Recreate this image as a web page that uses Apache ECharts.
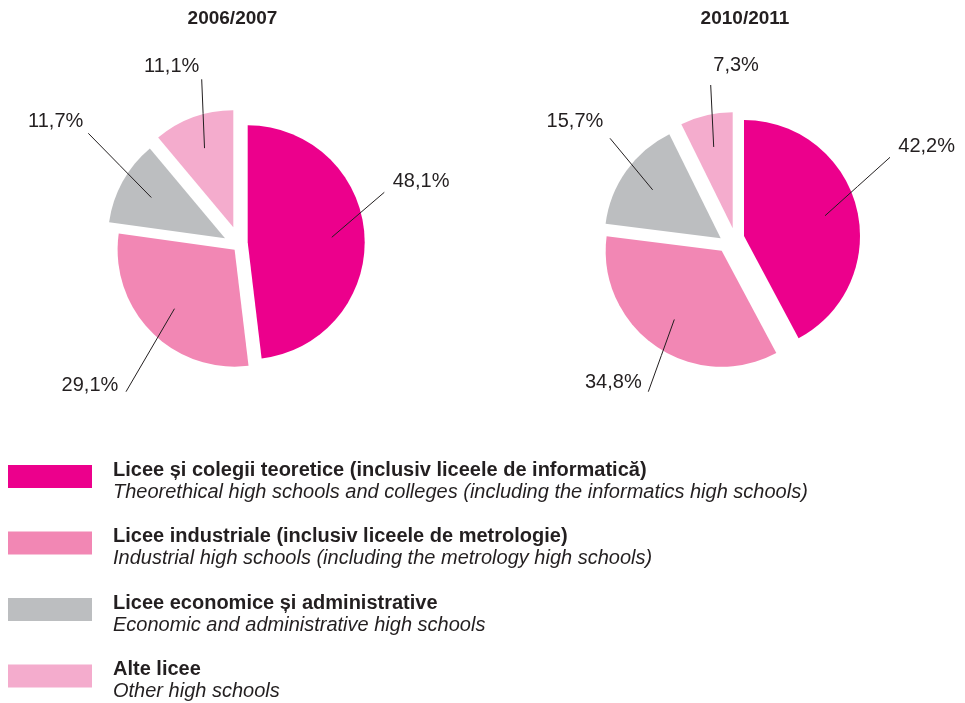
<!DOCTYPE html>
<html>
<head>
<meta charset="utf-8">
<script src="https://cdn.jsdelivr.net/npm/echarts@6/dist/echarts.min.js"></script>
<style>
html,body{margin:0;padding:0;background:#fff;}
#chart{width:965px;height:703px;}
</style>
</head>
<body>
<div id="chart"></div>
<script>
// ---- data ----
const years = ['2006/2007', '2010/2011'];
const categories = [
  'Licee și colegii teoretice (inclusiv liceele de informatică)',
  'Licee industriale (inclusiv liceele de metrologie)',
  'Licee economice și administrative',
  'Alte licee'
];
const categoriesEn = [
  'Theorethical high schools and colleges (including the informatics high schools)',
  'Industrial high schools (including the metrology high schools)',
  'Economic and administrative high schools',
  'Other high schools'
];
const values2006 = [48.1, 29.1, 11.7, 11.1];
const values2010 = [42.2, 34.8, 15.7, 7.3];

// ---- styles / layout ----
const COLORS = ['#EC008C', '#F287B4', '#BCBEC0', '#F4ACCD'];
const FONT = "'Liberation Sans', Arial, Helvetica, sans-serif";
const TEXT = '#231f20';
const PIE_CENTER = [[237, 240], [732, 240]];
const RADIUS = [117, 116];
// per-slice explode offsets [dx, dy]
const EXPLODE = [
  [[10.7, 2.3], [-2.4, 9.7], [-12, -1.7], [-3.7, -12.7]],
  [[12, -4], [-10.3, 10.7], [-11.3, -1.7], [0.7, -11.7]]
];
// label anchor offsets from each slice centre, and alignment
const LABEL_OFF = [
  [[145, -60.6, 'left'], [-116.3, 135.3, 'right'], [-141.7, -116.6, 'right'], [-34, -161.3, 'right']],
  [[154.3, -90, 'left'], [-80, 131.8, 'right'], [-117.4, -116.6, 'right'], [-19.4, -162.8, 'left']]
];
// leader line end offsets from each slice centre
const LINE_END = [
  [[136.6, -50], [-108.6, 142], [-136.7, -105], [-31.6, -148]],
  [[146, -78.7], [-73.4, 141], [-110.7, -100], [-22, -143.3]]
];
const INNER = 0.72;

const enByName = {};
categories.forEach((c, i) => { enByName[c] = categoriesEn[i]; });

function sliceGeometry(values, p) {
  const total = values.reduce((a, b) => a + b, 0);
  let cum = 0;
  return values.map((v, i) => {
    const startFrac = cum / total;
    cum += v;
    const midRad = (startFrac + v / total / 2) * 2 * Math.PI;
    let sa = 90 - startFrac * 360;
    sa = ((sa % 360) + 360) % 360;
    return {
      v: v, rest: total - v, i: i, p: p, midRad: midRad, startAngle: sa,
      cx: PIE_CENTER[p][0] + EXPLODE[p][i][0],
      cy: PIE_CENTER[p][1] + EXPLODE[p][i][1],
      R: RADIUS[p]
    };
  });
}

function sliceSeries(g) {
  return {
    type: 'pie',
    name: years[g.p] + '#' + g.i,
    z: 2,
    center: [g.cx, g.cy],
    radius: g.R,
    startAngle: g.startAngle,
    clockwise: true,
    silent: true,
    animation: false,
    avoidLabelOverlap: false,
    emphasis: { disabled: true },
    label: { show: false },
    labelLine: { show: false },
    data: [
      { name: categories[g.i], value: g.v, itemStyle: { color: COLORS[g.i] } },
      { name: '_rest', value: g.rest, itemStyle: { color: 'rgba(0,0,0,0)' } }
    ]
  };
}

function labelSeries(g) {
  const p = g.p, i = g.i, cx = g.cx, cy = g.cy, R = g.R;
  return {
    type: 'pie',
    name: years[p] + '#label' + i,
    z: 5,
    center: [cx, cy],
    radius: R,
    startAngle: g.startAngle,
    clockwise: true,
    silent: true,
    animation: false,
    avoidLabelOverlap: false,
    emphasis: { disabled: true },
    itemStyle: { color: 'rgba(0,0,0,0)' },
    label: {
      show: true,
      position: 'outside',
      fontSize: 20,
      fontFamily: FONT,
      color: TEXT,
      formatter: (prm) => prm.value.toFixed(1).replace('.', ',') + '%'
    },
    labelLine: {
      show: true, length: 10, length2: 0, smooth: false,
      lineStyle: { color: TEXT, width: 1 }
    },
    labelLayout: (prm) => {
      if (prm.dataIndex !== 0) return {};
      let ux = Math.sin(g.midRad), uy = -Math.cos(g.midRad);
      let p0 = [cx + R * ux, cy + R * uy];
      const pts = prm.labelLinePoints;
      if (pts && pts.length >= 2) {
        const dx = pts[1][0] - pts[0][0], dy = pts[1][1] - pts[0][1];
        const len = Math.hypot(dx, dy);
        if (len > 0) { ux = dx / len; uy = dy / len; p0 = pts[0]; }
      }
      const back = R * (1 - INNER);
      const inner = [p0[0] - back * ux, p0[1] - back * uy];
      const end = [cx + LINE_END[p][i][0], cy + LINE_END[p][i][1]];
      const mid = [(inner[0] + end[0]) / 2, (inner[1] + end[1]) / 2];
      const lo = LABEL_OFF[p][i];
      return {
        x: cx + lo[0],
        y: cy + lo[1],
        align: lo[2],
        verticalAlign: 'middle',
        labelLinePoints: [inner, mid, end]
      };
    },
    data: [
      { name: 'label-' + p + '-' + i, value: g.v },
      { name: '_rest', value: g.rest, label: { show: false }, labelLine: { show: false } }
    ]
  };
}

const geoms = [].concat(sliceGeometry(values2006, 0), sliceGeometry(values2010, 1));
const series = geoms.map(sliceSeries).concat(geoms.map(labelSeries));

const chart = echarts.init(document.getElementById('chart'), null, { renderer: 'canvas' });
chart.setOption({
  backgroundColor: '#ffffff',
  animation: false,
  title: [
    { text: years[0], left: 232.5, top: 9, textAlign: 'center', padding: 0,
      textStyle: { fontSize: 19, fontWeight: 'bold', color: TEXT, fontFamily: FONT, lineHeight: 20 } },
    { text: years[1], left: 745, top: 9, textAlign: 'center', padding: 0,
      textStyle: { fontSize: 19, fontWeight: 'bold', color: TEXT, fontFamily: FONT, lineHeight: 20 } }
  ],
  legend: {
    orient: 'vertical',
    left: 8,
    top: 460,
    padding: 0,
    itemGap: 24.5,
    itemWidth: 84,
    itemHeight: 23,
    icon: 'rect',
    selectedMode: false,
    data: categories,
    formatter: (name) => '{b|' + name + '}\n{i|' + enByName[name] + '}',
    textStyle: {
      padding: [9, 0, 0, 16],
      color: TEXT,
      fontFamily: FONT,
      rich: {
        b: { fontSize: 20, fontWeight: 'bold', lineHeight: 22, color: TEXT, fontFamily: FONT },
        i: { fontSize: 20, fontStyle: 'italic', lineHeight: 22, color: TEXT, fontFamily: FONT }
      }
    }
  },
  series: series
});
</script>
</body>
</html>
